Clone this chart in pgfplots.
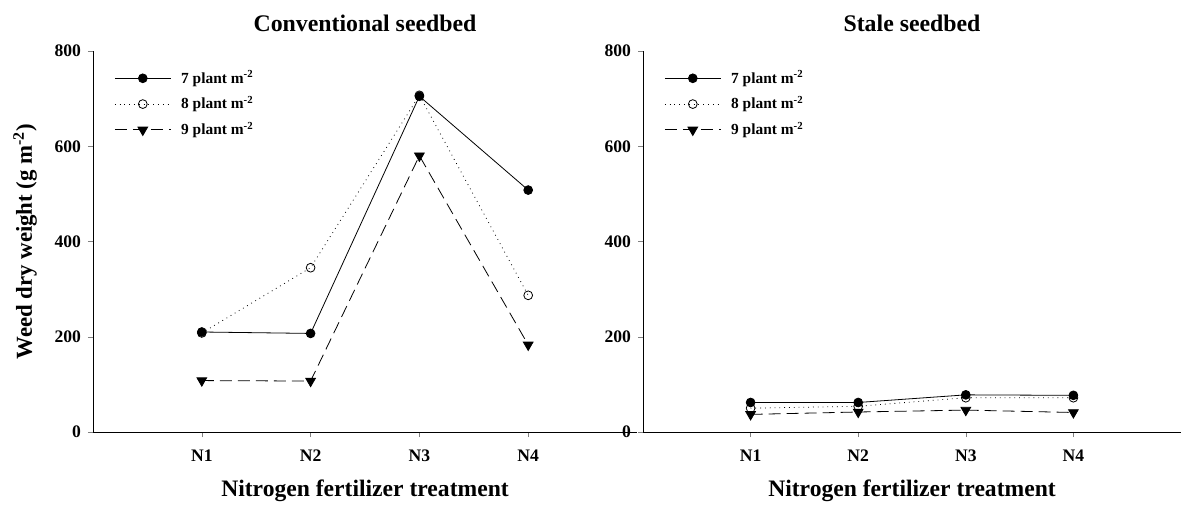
\documentclass[border=0pt]{standalone}
\usepackage{pgfplots}
\pgfplotsset{compat=1.18}
\usepackage{fontspec}
\setmainfont{Liberation Serif}

\pgfplotstableread{
x  a    b    c
1  210  208  108
2  207  345  107
3  705  707  580
4  508  287  183
}\conv

\pgfplotstableread{
x  a   b   c
1  62  50  37
2  62  54  42
3  78  72  46
4  77  72  41
}\stale

\pgfplotsset{
  panel/.style={
    scale only axis, width=272pt, height=190.5pt,
    xmin=0, xmax=5, ymin=0, ymax=800,
    axis lines*=left, axis line style={thin},
    tick align=outside, major tick length=2.5pt,
    xtick={1,2,3,4}, xticklabels={N1,N2,N3,N4},
    ytick={0,200,400,600,800},
    /pgf/number format/assume math mode=true,
    tick label style={font=\bfseries\fontsize{8.8}{10}\selectfont},
    xticklabel style={yshift=-3pt},
    title style={font=\bfseries\fontsize{11.9}{13}\selectfont, yshift=0pt},
    xlabel style={font=\bfseries\fontsize{11.8}{13}\selectfont, yshift=-2pt},
    xlabel={Nitrogen fertilizer treatment},
    legend style={draw=none, fill=none, at={(7.5pt,185pt)}, anchor=north west,
      font=\bfseries\fontsize{7.7}{9}\selectfont, row sep=1pt,
      legend cell align=left,
      /tikz/every odd column/.style={column sep=3pt}},
    legend image code/.code={
      \draw[mark repeat=2, mark phase=2] plot coordinates {(0pt,0pt) (14pt,0pt) (28pt,0pt)};},
  },
  s7/.style={black, thin, solid, mark=*, mark size=2.2pt, mark options={solid}},
  s8/.style={black, thin, dotted, mark=o, mark size=2.2pt, mark options={solid, fill=white}},
  s9/.style={black, thin, dash pattern=on 6pt off 3pt, mark=triangle*, mark size=2.8pt, mark options={solid, rotate=180}},
}

\begin{document}
\begin{tikzpicture}
\useasboundingbox (-46.5pt,-39pt) rectangle (545pt,216pt);
\begin{axis}[panel, title={Conventional seedbed},
  ylabel={Weed dry weight (g m\textsuperscript{-2})},
  ylabel style={font=\bfseries\fontsize{11.4}{13}\selectfont, yshift=2pt}]
  \addplot[s7] table[x=x, y=a] {\conv};
  \addlegendentry{7 plant m\textsuperscript{-2}}
  \addplot[s8] table[x=x, y=b] {\conv};
  \addlegendentry{8 plant m\textsuperscript{-2}}
  \addplot[s9] table[x=x, y=c] {\conv};
  \addlegendentry{9 plant m\textsuperscript{-2}}
\end{axis}
\begin{axis}[panel, at={(275pt,0pt)}, width=269pt, title={Stale seedbed}]
  \addplot[s7] table[x=x, y=a] {\stale};
  \addlegendentry{7 plant m\textsuperscript{-2}}
  \addplot[s8] table[x=x, y=b] {\stale};
  \addlegendentry{8 plant m\textsuperscript{-2}}
  \addplot[s9] table[x=x, y=c] {\stale};
  \addlegendentry{9 plant m\textsuperscript{-2}}
\end{axis}
\end{tikzpicture}
\end{document}
